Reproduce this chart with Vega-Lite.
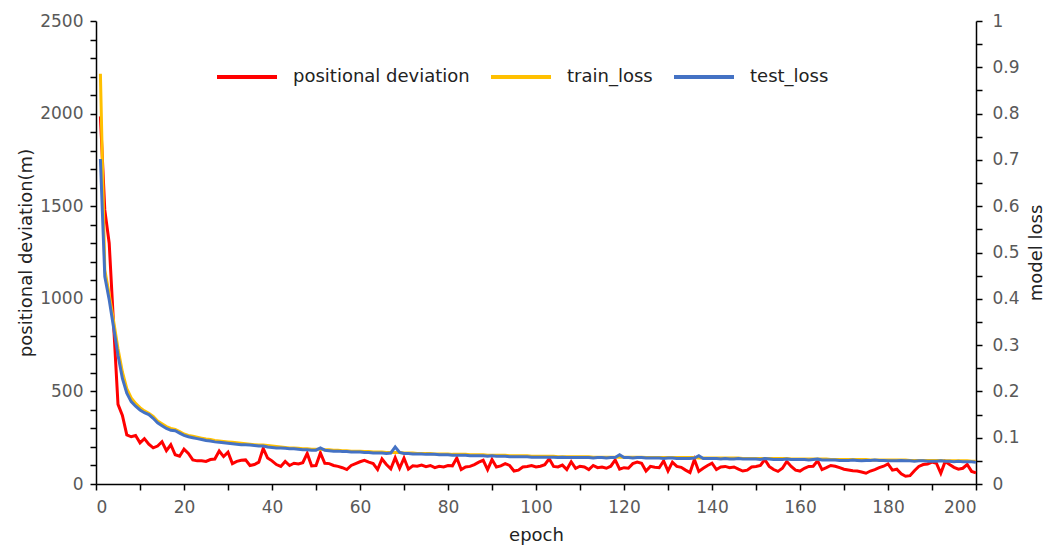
{
  "$schema": "https://vega.github.io/schema/vega-lite/v6.json",
  "width": 880,
  "height": 463,
  "autosize": {"type": "none"},
  "padding": {"left": 96, "top": 21, "right": 74, "bottom": 61},
  "background": "white",
  "config": {
    "view": {"stroke": null},
    "font": "DejaVu Sans",
    "axis": {
      "grid": false,
      "domainColor": "#000000",
      "domainWidth": 1.5,
      "tickColor": "#000000",
      "tickWidth": 1.5,
      "tickSize": 6,
      "labelColor": "#595959",
      "labelFontSize": 17,
      "labelFont": "DejaVu Sans",
      "titleFont": "DejaVu Sans",
      "titleFontSize": 18,
      "titleFontWeight": "normal",
      "titleColor": "#222222"
    },
    "legend": {
      "labelFont": "DejaVu Sans",
      "labelFontSize": 18,
      "labelColor": "#222222"
    }
  },
  "data": {
    "values": [
      {"epoch":1,"deviation":1985,"train_loss":0.886,"test_loss":0.702},
      {"epoch":2,"deviation":1480,"train_loss":0.462,"test_loss":0.448},
      {"epoch":3,"deviation":1300,"train_loss":0.410,"test_loss":0.398},
      {"epoch":4,"deviation":860,"train_loss":0.352,"test_loss":0.338},
      {"epoch":5,"deviation":430,"train_loss":0.292,"test_loss":0.278},
      {"epoch":6,"deviation":370,"train_loss":0.242,"test_loss":0.228},
      {"epoch":7,"deviation":265,"train_loss":0.206,"test_loss":0.196},
      {"epoch":8,"deviation":255,"train_loss":0.186,"test_loss":0.178},
      {"epoch":9,"deviation":262,"train_loss":0.174,"test_loss":0.168},
      {"epoch":10,"deviation":222,"train_loss":0.165,"test_loss":0.160},
      {"epoch":11,"deviation":245,"train_loss":0.158,"test_loss":0.154},
      {"epoch":12,"deviation":215,"train_loss":0.153,"test_loss":0.150},
      {"epoch":13,"deviation":195,"train_loss":0.146,"test_loss":0.142},
      {"epoch":14,"deviation":205,"train_loss":0.136,"test_loss":0.132},
      {"epoch":15,"deviation":228,"train_loss":0.130,"test_loss":0.126},
      {"epoch":16,"deviation":180,"train_loss":0.124,"test_loss":0.120},
      {"epoch":17,"deviation":212,"train_loss":0.120,"test_loss":0.116},
      {"epoch":18,"deviation":158,"train_loss":0.118,"test_loss":0.115},
      {"epoch":19,"deviation":150,"train_loss":0.113,"test_loss":0.110},
      {"epoch":20,"deviation":188,"train_loss":0.108,"test_loss":0.105},
      {"epoch":21,"deviation":165,"train_loss":0.105,"test_loss":0.102},
      {"epoch":22,"deviation":130,"train_loss":0.103,"test_loss":0.100},
      {"epoch":23,"deviation":125,"train_loss":0.101,"test_loss":0.098},
      {"epoch":24,"deviation":125,"train_loss":0.099,"test_loss":0.096},
      {"epoch":25,"deviation":122,"train_loss":0.097,"test_loss":0.094},
      {"epoch":26,"deviation":132,"train_loss":0.096,"test_loss":0.093},
      {"epoch":27,"deviation":135,"train_loss":0.094,"test_loss":0.091},
      {"epoch":28,"deviation":178,"train_loss":0.093,"test_loss":0.090},
      {"epoch":29,"deviation":148,"train_loss":0.092,"test_loss":0.089},
      {"epoch":30,"deviation":172,"train_loss":0.091,"test_loss":0.088},
      {"epoch":31,"deviation":110,"train_loss":0.090,"test_loss":0.087},
      {"epoch":32,"deviation":122,"train_loss":0.089,"test_loss":0.086},
      {"epoch":33,"deviation":128,"train_loss":0.088,"test_loss":0.085},
      {"epoch":34,"deviation":130,"train_loss":0.087,"test_loss":0.085},
      {"epoch":35,"deviation":100,"train_loss":0.086,"test_loss":0.084},
      {"epoch":36,"deviation":105,"train_loss":0.085,"test_loss":0.083},
      {"epoch":37,"deviation":118,"train_loss":0.084,"test_loss":0.082},
      {"epoch":38,"deviation":192,"train_loss":0.084,"test_loss":0.082},
      {"epoch":39,"deviation":140,"train_loss":0.083,"test_loss":0.080},
      {"epoch":40,"deviation":125,"train_loss":0.082,"test_loss":0.079},
      {"epoch":41,"deviation":105,"train_loss":0.081,"test_loss":0.078},
      {"epoch":42,"deviation":95,"train_loss":0.080,"test_loss":0.078},
      {"epoch":43,"deviation":122,"train_loss":0.079,"test_loss":0.077},
      {"epoch":44,"deviation":100,"train_loss":0.078,"test_loss":0.076},
      {"epoch":45,"deviation":112,"train_loss":0.078,"test_loss":0.076},
      {"epoch":46,"deviation":108,"train_loss":0.077,"test_loss":0.075},
      {"epoch":47,"deviation":115,"train_loss":0.076,"test_loss":0.074},
      {"epoch":48,"deviation":165,"train_loss":0.076,"test_loss":0.074},
      {"epoch":49,"deviation":98,"train_loss":0.075,"test_loss":0.073},
      {"epoch":50,"deviation":100,"train_loss":0.075,"test_loss":0.073},
      {"epoch":51,"deviation":168,"train_loss":0.075,"test_loss":0.078},
      {"epoch":52,"deviation":112,"train_loss":0.074,"test_loss":0.073},
      {"epoch":53,"deviation":110,"train_loss":0.074,"test_loss":0.072},
      {"epoch":54,"deviation":100,"train_loss":0.073,"test_loss":0.071},
      {"epoch":55,"deviation":95,"train_loss":0.073,"test_loss":0.071},
      {"epoch":56,"deviation":88,"train_loss":0.072,"test_loss":0.070},
      {"epoch":57,"deviation":78,"train_loss":0.072,"test_loss":0.070},
      {"epoch":58,"deviation":100,"train_loss":0.071,"test_loss":0.069},
      {"epoch":59,"deviation":110,"train_loss":0.071,"test_loss":0.069},
      {"epoch":60,"deviation":120,"train_loss":0.071,"test_loss":0.069},
      {"epoch":61,"deviation":128,"train_loss":0.070,"test_loss":0.068},
      {"epoch":62,"deviation":118,"train_loss":0.070,"test_loss":0.068},
      {"epoch":63,"deviation":110,"train_loss":0.069,"test_loss":0.067},
      {"epoch":64,"deviation":78,"train_loss":0.069,"test_loss":0.067},
      {"epoch":65,"deviation":135,"train_loss":0.069,"test_loss":0.067},
      {"epoch":66,"deviation":105,"train_loss":0.068,"test_loss":0.066},
      {"epoch":67,"deviation":82,"train_loss":0.068,"test_loss":0.067},
      {"epoch":68,"deviation":142,"train_loss":0.068,"test_loss":0.080},
      {"epoch":69,"deviation":85,"train_loss":0.068,"test_loss":0.068},
      {"epoch":70,"deviation":140,"train_loss":0.067,"test_loss":0.066},
      {"epoch":71,"deviation":80,"train_loss":0.067,"test_loss":0.066},
      {"epoch":72,"deviation":98,"train_loss":0.067,"test_loss":0.065},
      {"epoch":73,"deviation":96,"train_loss":0.066,"test_loss":0.065},
      {"epoch":74,"deviation":102,"train_loss":0.066,"test_loss":0.065},
      {"epoch":75,"deviation":94,"train_loss":0.066,"test_loss":0.064},
      {"epoch":76,"deviation":100,"train_loss":0.066,"test_loss":0.064},
      {"epoch":77,"deviation":88,"train_loss":0.065,"test_loss":0.064},
      {"epoch":78,"deviation":96,"train_loss":0.065,"test_loss":0.063},
      {"epoch":79,"deviation":92,"train_loss":0.065,"test_loss":0.063},
      {"epoch":80,"deviation":100,"train_loss":0.065,"test_loss":0.063},
      {"epoch":81,"deviation":98,"train_loss":0.064,"test_loss":0.062},
      {"epoch":82,"deviation":140,"train_loss":0.064,"test_loss":0.062},
      {"epoch":83,"deviation":78,"train_loss":0.064,"test_loss":0.062},
      {"epoch":84,"deviation":92,"train_loss":0.064,"test_loss":0.062},
      {"epoch":85,"deviation":95,"train_loss":0.063,"test_loss":0.061},
      {"epoch":86,"deviation":105,"train_loss":0.063,"test_loss":0.061},
      {"epoch":87,"deviation":118,"train_loss":0.063,"test_loss":0.061},
      {"epoch":88,"deviation":128,"train_loss":0.063,"test_loss":0.061},
      {"epoch":89,"deviation":78,"train_loss":0.062,"test_loss":0.060},
      {"epoch":90,"deviation":132,"train_loss":0.062,"test_loss":0.061},
      {"epoch":91,"deviation":92,"train_loss":0.062,"test_loss":0.060},
      {"epoch":92,"deviation":98,"train_loss":0.062,"test_loss":0.060},
      {"epoch":93,"deviation":110,"train_loss":0.062,"test_loss":0.060},
      {"epoch":94,"deviation":100,"train_loss":0.061,"test_loss":0.059},
      {"epoch":95,"deviation":70,"train_loss":0.061,"test_loss":0.059},
      {"epoch":96,"deviation":75,"train_loss":0.061,"test_loss":0.059},
      {"epoch":97,"deviation":92,"train_loss":0.061,"test_loss":0.059},
      {"epoch":98,"deviation":95,"train_loss":0.061,"test_loss":0.059},
      {"epoch":99,"deviation":100,"train_loss":0.060,"test_loss":0.058},
      {"epoch":100,"deviation":92,"train_loss":0.060,"test_loss":0.058},
      {"epoch":101,"deviation":96,"train_loss":0.060,"test_loss":0.058},
      {"epoch":102,"deviation":104,"train_loss":0.060,"test_loss":0.058},
      {"epoch":103,"deviation":136,"train_loss":0.060,"test_loss":0.058},
      {"epoch":104,"deviation":95,"train_loss":0.060,"test_loss":0.058},
      {"epoch":105,"deviation":92,"train_loss":0.059,"test_loss":0.057},
      {"epoch":106,"deviation":102,"train_loss":0.059,"test_loss":0.058},
      {"epoch":107,"deviation":78,"train_loss":0.059,"test_loss":0.057},
      {"epoch":108,"deviation":120,"train_loss":0.059,"test_loss":0.057},
      {"epoch":109,"deviation":85,"train_loss":0.059,"test_loss":0.057},
      {"epoch":110,"deviation":96,"train_loss":0.059,"test_loss":0.057},
      {"epoch":111,"deviation":92,"train_loss":0.059,"test_loss":0.057},
      {"epoch":112,"deviation":78,"train_loss":0.059,"test_loss":0.057},
      {"epoch":113,"deviation":100,"train_loss":0.058,"test_loss":0.056},
      {"epoch":114,"deviation":88,"train_loss":0.058,"test_loss":0.057},
      {"epoch":115,"deviation":92,"train_loss":0.058,"test_loss":0.057},
      {"epoch":116,"deviation":85,"train_loss":0.058,"test_loss":0.056},
      {"epoch":117,"deviation":96,"train_loss":0.058,"test_loss":0.057},
      {"epoch":118,"deviation":130,"train_loss":0.058,"test_loss":0.057},
      {"epoch":119,"deviation":80,"train_loss":0.058,"test_loss":0.063},
      {"epoch":120,"deviation":88,"train_loss":0.058,"test_loss":0.057},
      {"epoch":121,"deviation":85,"train_loss":0.058,"test_loss":0.057},
      {"epoch":122,"deviation":110,"train_loss":0.058,"test_loss":0.056},
      {"epoch":123,"deviation":118,"train_loss":0.058,"test_loss":0.057},
      {"epoch":124,"deviation":112,"train_loss":0.058,"test_loss":0.057},
      {"epoch":125,"deviation":70,"train_loss":0.057,"test_loss":0.056},
      {"epoch":126,"deviation":95,"train_loss":0.057,"test_loss":0.056},
      {"epoch":127,"deviation":90,"train_loss":0.057,"test_loss":0.056},
      {"epoch":128,"deviation":88,"train_loss":0.057,"test_loss":0.056},
      {"epoch":129,"deviation":125,"train_loss":0.057,"test_loss":0.055},
      {"epoch":130,"deviation":70,"train_loss":0.057,"test_loss":0.056},
      {"epoch":131,"deviation":118,"train_loss":0.057,"test_loss":0.056},
      {"epoch":132,"deviation":95,"train_loss":0.057,"test_loss":0.055},
      {"epoch":133,"deviation":90,"train_loss":0.057,"test_loss":0.055},
      {"epoch":134,"deviation":75,"train_loss":0.057,"test_loss":0.055},
      {"epoch":135,"deviation":62,"train_loss":0.057,"test_loss":0.055},
      {"epoch":136,"deviation":132,"train_loss":0.057,"test_loss":0.056},
      {"epoch":137,"deviation":68,"train_loss":0.056,"test_loss":0.061},
      {"epoch":138,"deviation":85,"train_loss":0.056,"test_loss":0.055},
      {"epoch":139,"deviation":100,"train_loss":0.056,"test_loss":0.055},
      {"epoch":140,"deviation":112,"train_loss":0.056,"test_loss":0.055},
      {"epoch":141,"deviation":78,"train_loss":0.056,"test_loss":0.055},
      {"epoch":142,"deviation":92,"train_loss":0.056,"test_loss":0.054},
      {"epoch":143,"deviation":95,"train_loss":0.056,"test_loss":0.055},
      {"epoch":144,"deviation":88,"train_loss":0.056,"test_loss":0.054},
      {"epoch":145,"deviation":92,"train_loss":0.056,"test_loss":0.054},
      {"epoch":146,"deviation":80,"train_loss":0.056,"test_loss":0.055},
      {"epoch":147,"deviation":70,"train_loss":0.055,"test_loss":0.054},
      {"epoch":148,"deviation":75,"train_loss":0.055,"test_loss":0.054},
      {"epoch":149,"deviation":92,"train_loss":0.055,"test_loss":0.054},
      {"epoch":150,"deviation":95,"train_loss":0.055,"test_loss":0.054},
      {"epoch":151,"deviation":100,"train_loss":0.055,"test_loss":0.053},
      {"epoch":152,"deviation":132,"train_loss":0.055,"test_loss":0.055},
      {"epoch":153,"deviation":95,"train_loss":0.055,"test_loss":0.054},
      {"epoch":154,"deviation":78,"train_loss":0.055,"test_loss":0.053},
      {"epoch":155,"deviation":68,"train_loss":0.055,"test_loss":0.053},
      {"epoch":156,"deviation":85,"train_loss":0.055,"test_loss":0.053},
      {"epoch":157,"deviation":122,"train_loss":0.055,"test_loss":0.054},
      {"epoch":158,"deviation":95,"train_loss":0.054,"test_loss":0.053},
      {"epoch":159,"deviation":75,"train_loss":0.054,"test_loss":0.053},
      {"epoch":160,"deviation":70,"train_loss":0.054,"test_loss":0.053},
      {"epoch":161,"deviation":85,"train_loss":0.054,"test_loss":0.053},
      {"epoch":162,"deviation":95,"train_loss":0.054,"test_loss":0.052},
      {"epoch":163,"deviation":96,"train_loss":0.054,"test_loss":0.053},
      {"epoch":164,"deviation":125,"train_loss":0.054,"test_loss":0.054},
      {"epoch":165,"deviation":78,"train_loss":0.054,"test_loss":0.052},
      {"epoch":166,"deviation":88,"train_loss":0.054,"test_loss":0.052},
      {"epoch":167,"deviation":100,"train_loss":0.053,"test_loss":0.052},
      {"epoch":168,"deviation":96,"train_loss":0.053,"test_loss":0.052},
      {"epoch":169,"deviation":88,"train_loss":0.053,"test_loss":0.051},
      {"epoch":170,"deviation":80,"train_loss":0.053,"test_loss":0.051},
      {"epoch":171,"deviation":76,"train_loss":0.053,"test_loss":0.051},
      {"epoch":172,"deviation":72,"train_loss":0.053,"test_loss":0.052},
      {"epoch":173,"deviation":70,"train_loss":0.053,"test_loss":0.051},
      {"epoch":174,"deviation":65,"train_loss":0.053,"test_loss":0.050},
      {"epoch":175,"deviation":58,"train_loss":0.053,"test_loss":0.051},
      {"epoch":176,"deviation":70,"train_loss":0.052,"test_loss":0.051},
      {"epoch":177,"deviation":78,"train_loss":0.052,"test_loss":0.052},
      {"epoch":178,"deviation":88,"train_loss":0.052,"test_loss":0.051},
      {"epoch":179,"deviation":96,"train_loss":0.052,"test_loss":0.051},
      {"epoch":180,"deviation":108,"train_loss":0.052,"test_loss":0.050},
      {"epoch":181,"deviation":75,"train_loss":0.052,"test_loss":0.050},
      {"epoch":182,"deviation":80,"train_loss":0.052,"test_loss":0.050},
      {"epoch":183,"deviation":55,"train_loss":0.052,"test_loss":0.051},
      {"epoch":184,"deviation":42,"train_loss":0.052,"test_loss":0.050},
      {"epoch":185,"deviation":45,"train_loss":0.051,"test_loss":0.050},
      {"epoch":186,"deviation":72,"train_loss":0.051,"test_loss":0.049},
      {"epoch":187,"deviation":95,"train_loss":0.051,"test_loss":0.050},
      {"epoch":188,"deviation":105,"train_loss":0.051,"test_loss":0.050},
      {"epoch":189,"deviation":108,"train_loss":0.051,"test_loss":0.049},
      {"epoch":190,"deviation":118,"train_loss":0.051,"test_loss":0.049},
      {"epoch":191,"deviation":112,"train_loss":0.051,"test_loss":0.049},
      {"epoch":192,"deviation":58,"train_loss":0.051,"test_loss":0.050},
      {"epoch":193,"deviation":122,"train_loss":0.050,"test_loss":0.049},
      {"epoch":194,"deviation":105,"train_loss":0.050,"test_loss":0.049},
      {"epoch":195,"deviation":90,"train_loss":0.050,"test_loss":0.048},
      {"epoch":196,"deviation":80,"train_loss":0.050,"test_loss":0.049},
      {"epoch":197,"deviation":85,"train_loss":0.050,"test_loss":0.048},
      {"epoch":198,"deviation":105,"train_loss":0.050,"test_loss":0.048},
      {"epoch":199,"deviation":68,"train_loss":0.049,"test_loss":0.048},
      {"epoch":200,"deviation":60,"train_loss":0.049,"test_loss":0.047}
    ]
  },
  "encoding": {
    "x": {
      "field": "epoch",
      "type": "quantitative",
      "scale": {"domain": [0, 200], "nice": false},
      "axis": {
        "title": "epoch",
        "values": [0,10,20,30,40,50,60,70,80,90,100,110,120,130,140,150,160,170,180,190,200],
        "labelExpr": "datum.value % 20 == 0 ? datum.label : ''",
        "labelPadding": 9,
        "titlePadding": 11
      }
    }
  },
  "layer": [
    {
      "mark": {"type": "line", "strokeWidth": 3, "interpolate": "linear"},
      "encoding": {
        "y": {
          "field": "deviation",
          "type": "quantitative",
          "scale": {"domain": [0, 2500], "nice": false},
          "axis": {
            "title": "positional deviation(m)",
            "orient": "left",
            "values": [0,100,200,300,400,500,600,700,800,900,1000,1100,1200,1300,1400,1500,1600,1700,1800,1900,2000,2100,2200,2300,2400,2500],
            "labelExpr": "datum.value % 500 == 0 ? datum.label : ''",
            "format": "d",
            "labelPadding": 7,
            "titlePadding": 4
          }
        },
        "color": {
          "datum": "positional deviation",
          "type": "nominal",
          "title": null,
          "scale": {
            "domain": ["positional deviation", "train_loss", "test_loss"],
            "range": ["#FF0000", "#FFC000", "#4472C4"]
          },
          "legend": {
            "title": null,
            "orient": "none",
            "direction": "horizontal",
            "legendX": 119,
            "legendY": 24,
            "symbolType": "stroke",
            "symbolSize": 3600,
            "symbolStrokeWidth": 4,
            "labelOffset": 14,
            "columnPadding": 13,
            "labelLimit": 400
          }
        }
      }
    },
    {
      "transform": [{"fold": ["train_loss", "test_loss"], "as": ["series", "loss"]}],
      "mark": {"type": "line", "strokeWidth": 3},
      "encoding": {
        "y": {
          "field": "loss",
          "type": "quantitative",
          "scale": {"domain": [0, 1], "nice": false},
          "axis": {
            "title": "model loss",
            "orient": "right",
            "values": [0,0.05,0.1,0.15,0.2,0.25,0.3,0.35,0.4,0.45,0.5,0.55,0.6,0.65,0.7,0.75,0.8,0.85,0.9,0.95,1],
            "labelExpr": "round(datum.value*100) % 10 == 0 ? format(datum.value, '~g') : ''",
            "labelPadding": 10,
            "titleAngle": 270,
            "titleBaseline": "top",
            "titlePadding": 8
          }
        },
        "color": {"field": "series", "type": "nominal", "title": null}
      }
    }
  ],
  "resolve": {"scale": {"y": "independent"}}
}
